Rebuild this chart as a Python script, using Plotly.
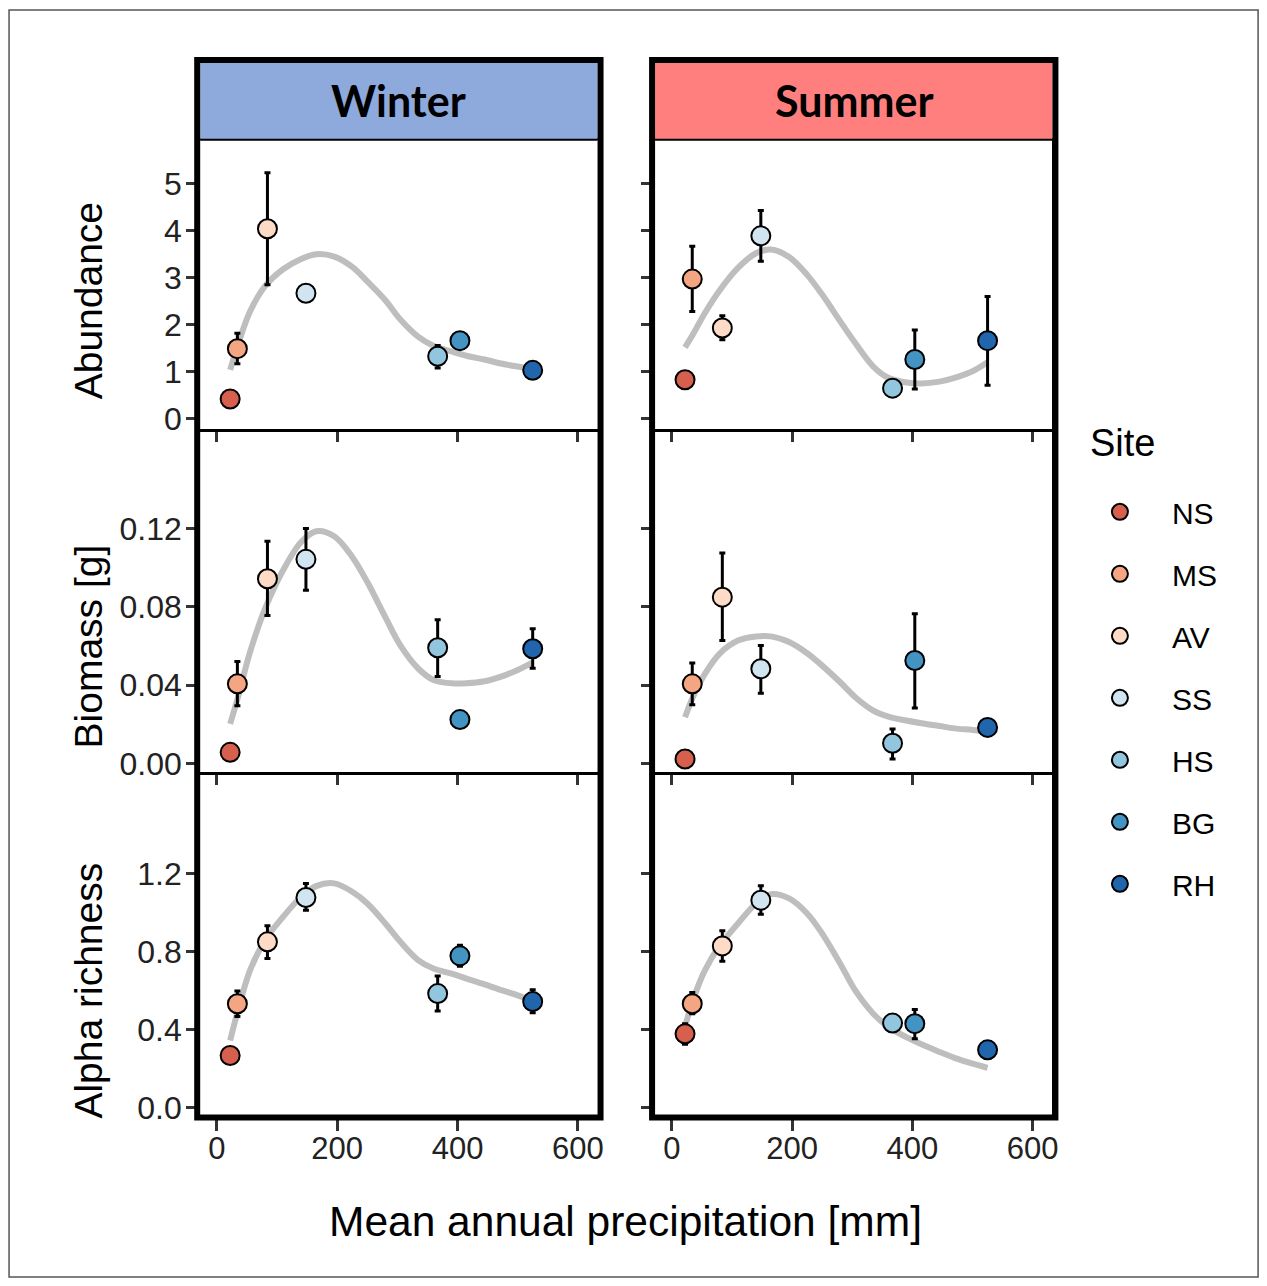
import plotly.graph_objects as go

# page body has an 8px margin; the captured page maps to the picture with a slight scale
PAGE_OFF = 8
SX, SY = 0.9944, 0.991
W, H = 1258, 1282

SITES = ["NS", "MS", "AV", "SS", "HS", "BG", "RH"]
SITE_COLORS = ["#D6604D", "#F4A582", "#FDDBC7", "#D1E5F0", "#92C5DE", "#4393C3", "#2166AC"]
PRECIP = [22, 34, 84, 148, 367, 404, 525]
SEASONS = ["Winter", "Summer"]
METRICS = ["Abundance", "Biomass [g]", "Alpha richness"]
X_TICKS = [0, 200, 400, 600]

# ---- Abundance ----
ABUND_W = [0.42, 1.49, 4.04, 2.67, 1.33, 1.66, 1.03]
ABUND_W_LO = [None, 1.17, 2.85, None, 1.08, None, None]
ABUND_W_HI = [None, 1.82, 5.23, None, 1.56, None, None]
ABUND_S = [0.83, 2.97, 1.93, 3.89, 0.65, 1.26, 1.66]
ABUND_S_LO = [None, 2.28, 1.68, 3.35, None, 0.63, 0.71]
ABUND_S_HI = [None, 3.67, 2.19, 4.43, None, 1.89, 2.60]

# ---- Biomass ----
BIOM_W = [0.0058, 0.0407, 0.0943, 0.1042, 0.0591, 0.0225, 0.0586]
BIOM_W_LO = [None, 0.0296, 0.0756, 0.0884, 0.0444, None, 0.0487]
BIOM_W_HI = [None, 0.0521, 0.1134, 0.1199, 0.0734, None, 0.0688]
BIOM_S = [0.0024, 0.0407, 0.0849, 0.0484, 0.0104, 0.0526, 0.0185]
BIOM_S_LO = [None, 0.0301, 0.0628, 0.0359, 0.0024, 0.0284, None]
BIOM_S_HI = [None, 0.0514, 0.1074, 0.0603, 0.0177, 0.0765, None]

# ---- Alpha richness ----
ALPHA_W = [0.268, 0.533, 0.850, 1.077, 0.585, 0.778, 0.544]
ALPHA_W_LO = [None, 0.468, 0.764, 1.012, 0.496, 0.725, 0.487]
ALPHA_W_HI = [None, 0.598, 0.932, 1.149, 0.675, 0.832, 0.605]
ALPHA_S = [0.379, 0.533, 0.829, 1.063, 0.434, 0.431, 0.297]
ALPHA_S_LO = [0.325, 0.482, 0.750, 0.991, None, 0.354, None]
ALPHA_S_HI = [0.431, 0.590, 0.906, 1.137, None, 0.503, None]

# ---- fitted smooth curves ----
FIT_X = [22, 35, 55, 80, 110, 140, 165, 195, 225, 250, 280, 305, 335, 360, 390, 415, 445, 470, 500, 525]
FIT_ABUND_W = [1.04, 1.57, 2.28, 2.82, 3.18, 3.40, 3.50, 3.45, 3.23, 2.92, 2.52, 2.11, 1.74, 1.55, 1.43, 1.34, 1.26, 1.18, 1.11, 1.06]
FIT_ABUND_S = [1.52, 1.79, 2.25, 2.74, 3.21, 3.52, 3.60, 3.44, 3.06, 2.64, 2.07, 1.61, 1.11, 0.87, 0.77, 0.75, 0.79, 0.87, 1.01, 1.20]
FIT_BIOM_W = [0.0203, 0.0339, 0.0569, 0.079, 0.0986, 0.113, 0.1185, 0.116, 0.1054, 0.0926, 0.0747, 0.0603, 0.0484, 0.0427, 0.041, 0.041, 0.042, 0.0441, 0.0478, 0.0517]
FIT_BIOM_S = [0.0237, 0.0339, 0.0458, 0.0563, 0.0628, 0.0649, 0.0649, 0.062, 0.0563, 0.050, 0.0415, 0.0339, 0.0271, 0.024, 0.022, 0.0206, 0.0192, 0.018, 0.0172, 0.0163]
FIT_ALPHA_W = [0.345, 0.499, 0.704, 0.858, 0.978, 1.080, 1.135, 1.149, 1.106, 1.046, 0.944, 0.850, 0.755, 0.713, 0.687, 0.662, 0.632, 0.605, 0.576, 0.547]
FIT_ALPHA_S = [0.414, 0.550, 0.704, 0.832, 0.944, 1.046, 1.094, 1.072, 0.995, 0.892, 0.738, 0.601, 0.482, 0.414, 0.362, 0.325, 0.286, 0.256, 0.226, 0.205]

Y_TICKS = [[0, 1, 2, 3, 4, 5], [0.0, 0.04, 0.08, 0.12], [0.0, 0.4, 0.8, 1.2]]
Y_TICKTEXT = [["0", "1", "2", "3", "4", "5"], ["0.00", "0.04", "0.08", "0.12"], ["0.0", "0.4", "0.8", "1.2"]]
Y_RANGES = [[-0.245, 5.926], [-0.00495, 0.1695], [-0.0343, 1.707]]
X_RANGE = [-27.8, 632.8]

PANELS = [
    # (row, col, mean, lo, hi, fit)
    (0, 0, ABUND_W, ABUND_W_LO, ABUND_W_HI, FIT_ABUND_W),
    (0, 1, ABUND_S, ABUND_S_LO, ABUND_S_HI, FIT_ABUND_S),
    (1, 0, BIOM_W, BIOM_W_LO, BIOM_W_HI, FIT_BIOM_W),
    (1, 1, BIOM_S, BIOM_S_LO, BIOM_S_HI, FIT_BIOM_S),
    (2, 0, ALPHA_W, ALPHA_W_LO, ALPHA_W_HI, FIT_ALPHA_W),
    (2, 1, ALPHA_S, ALPHA_S_LO, ALPHA_S_HI, FIT_ALPHA_S),
]

# layout geometry in target picture pixels
COL_PX = [(200, 597), (654.5, 1051.5)]
ROW_PX = [(140, 430), (431, 773), (774, 1114)]
STRIP_TOP = 60
BOTTOM = 1117

def px_x(v):
    return (v / SX - PAGE_OFF) / W

def px_y(v):
    return 1 - (v / SY - PAGE_OFF) / H

def raw_x(p):  # page-pixel position (already corrected)
    return (p - PAGE_OFF) / W

def raw_y(p):
    return 1 - (p - PAGE_OFF) / H

FONT = "Liberation Sans, Arial, sans-serif"
TICK_COLOR = "#333333"

fig = go.Figure()
layout = {}

for i, (r, c, mean, lo, hi, fit) in enumerate(PANELS):
    n = i + 1
    xa = "x" if n == 1 else f"x{n}"
    ya = "y" if n == 1 else f"y{n}"
    fig.add_trace(go.Scatter(
        x=FIT_X, y=fit, xaxis=xa, yaxis=ya, mode="lines",
        line=dict(color="#BEBEBE", width=6, shape="spline", smoothing=1.0),
        showlegend=False, hoverinfo="skip"))

for i, (r, c, mean, lo, hi, fit) in enumerate(PANELS):
    n = i + 1
    xa = "x" if n == 1 else f"x{n}"
    ya = "y" if n == 1 else f"y{n}"
    for k, site in enumerate(SITES):
        has_err = lo[k] is not None
        err = dict(type="data", symmetric=False,
                   array=[hi[k] - mean[k]] if has_err else [0],
                   arrayminus=[mean[k] - lo[k]] if has_err else [0],
                   visible=has_err, color="black", thickness=3, width=3)
        fig.add_trace(go.Scatter(
            x=[PRECIP[k]], y=[mean[k]], xaxis=xa, yaxis=ya, mode="markers",
            marker=dict(size=19, color=SITE_COLORS[k], line=dict(color="black", width=2)),
            error_y=err, name=site, legendgroup=site, showlegend=(i == 0)))

for i, (r, c, mean, lo, hi, fit) in enumerate(PANELS):
    n = i + 1
    xkey = "xaxis" if n == 1 else f"xaxis{n}"
    ykey = "yaxis" if n == 1 else f"yaxis{n}"
    ya = "y" if n == 1 else f"y{n}"
    xa = "x" if n == 1 else f"x{n}"
    x0, x1 = COL_PX[c]
    y0, y1 = ROW_PX[r]
    bottom_row = (r == 2)
    layout[xkey] = dict(
        domain=[px_x(x0), px_x(x1)], range=X_RANGE, anchor=ya,
        tickvals=X_TICKS, ticks="outside", ticklen=14 if bottom_row else 10,
        tickwidth=2.5, tickcolor=TICK_COLOR, showticklabels=bottom_row,
        ticklabelstandoff=-9,
        tickfont=dict(family=FONT, size=31, color="#222222"),
        showgrid=False, zeroline=False, showline=True, linecolor="black",
        linewidth=2, mirror=True, fixedrange=True)
    layout[ykey] = dict(
        domain=[px_y(y1), px_y(y0)], range=Y_RANGES[r], anchor=xa,
        tickvals=Y_TICKS[r], ticktext=Y_TICKTEXT[r], ticks="outside", ticklen=12,
        tickwidth=2.5, tickcolor=TICK_COLOR, showticklabels=(c == 0),
        ticklabelstandoff=-2,
        tickfont=dict(family=FONT, size=32, color="#222222"),
        showgrid=False, zeroline=False, showline=True, linecolor="black",
        linewidth=2, mirror=True, fixedrange=True)

shapes = []
annotations = []
STRIP_COLORS = ["#8EA9DB", "#FF7F7F"]
for c, season in enumerate(SEASONS):
    x0, x1 = COL_PX[c]
    shapes.append(dict(type="rect", xref="paper", yref="paper",
                       x0=px_x(x0), x1=px_x(x1), y0=px_y(139.5), y1=px_y(STRIP_TOP),
                       fillcolor=STRIP_COLORS[c], line=dict(width=0), layer="above"))
    shapes.append(dict(type="line", xref="paper", yref="paper",
                       x0=px_x(x0), x1=px_x(x1), y0=px_y(139.5), y1=px_y(139.5),
                       line=dict(color="black", width=2), layer="above"))
    shapes.append(dict(type="rect", xref="paper", yref="paper",
                       x0=px_x(x0 - 3), x1=px_x(x1 + 3), y0=px_y(BOTTOM), y1=px_y(STRIP_TOP),
                       line=dict(color="black", width=6), layer="above"))
    annotations.append(dict(text=f"<b>{season}</b>", xref="paper", yref="paper",
                            x=px_x((x0 + x1) / 2), y=px_y(100), xanchor="center", yanchor="middle",
                            showarrow=False, font=dict(family="Lato, Carlito, sans-serif", size=43, color="black")))

# outer figure frame
shapes.append(dict(type="rect", xref="paper", yref="paper",
                   x0=px_x(9), x1=px_x(1257), y0=px_y(1276.5), y1=px_y(10),
                   line=dict(color="#555555", width=1.5), layer="above"))

TITLE_Y = [301, 646, 990]
for r, m in enumerate(METRICS):
    annotations.append(dict(text=m, xref="paper", yref="paper", x=px_x(88), y=px_y(TITLE_Y[r]),
                            xanchor="center", yanchor="middle", textangle=-90, showarrow=False,
                            font=dict(family=FONT, size=39, color="black")))
annotations.append(dict(text="Mean annual precipitation [mm]", xref="paper", yref="paper",
                        x=px_x(625), y=px_y(1221), xanchor="center", yanchor="middle",
                        showarrow=False, font=dict(family=FONT, size=42.5, color="black")))
annotations.append(dict(text="Site", xref="paper", yref="paper", x=px_x(1087), y=px_y(443),
                        xanchor="left", yanchor="middle", showarrow=False,
                        font=dict(family=FONT, size=38, color="black")))

layout.update(dict(
    width=W, height=H, autosize=False,
    margin=dict(l=0, r=0, t=0, b=0, pad=0),
    paper_bgcolor="white", plot_bgcolor="rgba(0,0,0,0)",
    shapes=shapes, annotations=annotations,
    showlegend=True,
    legend=dict(x=raw_x(1073), y=raw_y(490), xanchor="left", yanchor="top",
                font=dict(family=FONT, size=30, color="black"),
                traceorder="grouped", tracegroupgap=20, itemwidth=94,
                bgcolor="rgba(0,0,0,0)", borderwidth=0),
))
fig.update_layout(**layout)
fig.write_html("out.html")
